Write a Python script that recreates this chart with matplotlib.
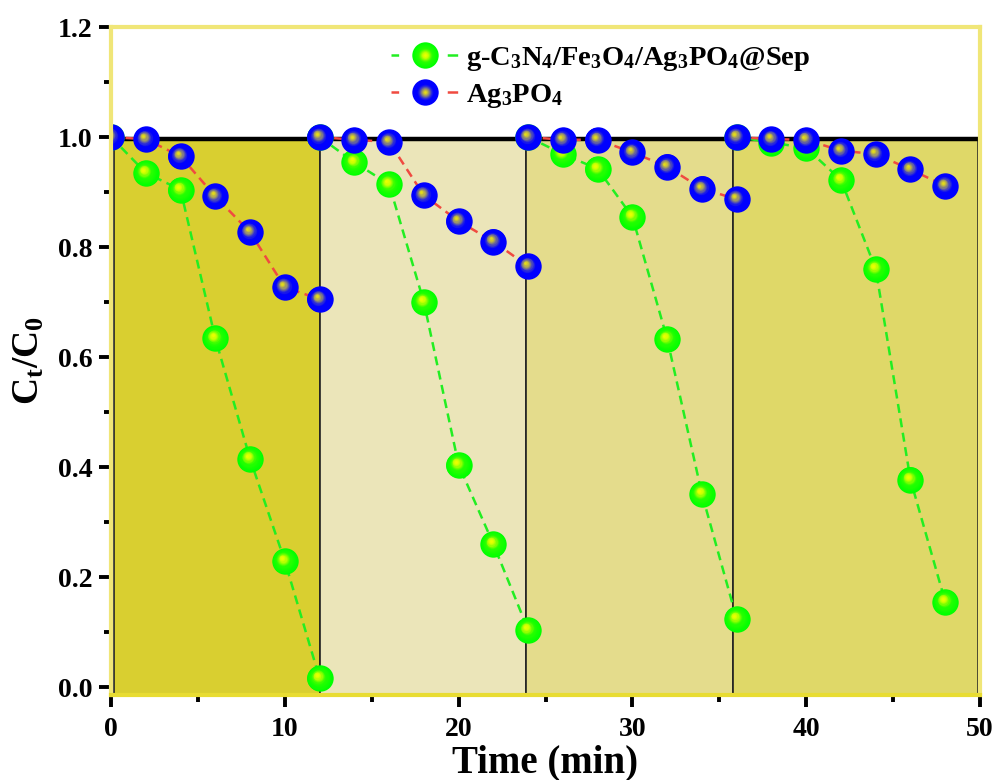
import numpy as np
import matplotlib
matplotlib.use("Agg")
import matplotlib.pyplot as plt
from matplotlib.patches import Rectangle
from matplotlib.lines import Line2D
from matplotlib.legend_handler import HandlerTuple
import matplotlib.transforms as mtransforms

plt.rcParams['font.family'] = ['Liberation Serif', 'DejaVu Serif']
plt.rcParams['font.weight'] = 'bold'
plt.rcParams['mathtext.fontset'] = 'custom'
plt.rcParams['mathtext.rm'] = 'Liberation Serif:bold'
plt.rcParams['mathtext.it'] = 'Liberation Serif:bold'
plt.rcParams['mathtext.bf'] = 'Liberation Serif:bold'
plt.rcParams['lines.scale_dashes'] = False

# ---- data (4 cycles, each starting at C/C0 = 1) ----
cycle_times = [
    [0, 2, 4, 6, 8, 10, 12],
    [12, 14, 16, 18, 20, 22, 24],
    [24, 26, 28, 30, 32, 34, 36],
    [36, 38, 40, 42, 44, 46, 48],
]
composite_vals = [
    [1.0, 0.935, 0.904, 0.634, 0.415, 0.229, 0.016],
    [1.0, 0.954, 0.914, 0.700, 0.404, 0.260, 0.104],
    [1.0, 0.969, 0.942, 0.855, 0.633, 0.351, 0.124],
    [1.0, 0.990, 0.980, 0.922, 0.760, 0.377, 0.155],
]
ag3po4_vals = [
    [1.0, 0.996, 0.965, 0.892, 0.827, 0.727, 0.705],
    [1.0, 0.995, 0.991, 0.894, 0.847, 0.810, 0.765],
    [1.0, 0.995, 0.995, 0.972, 0.946, 0.906, 0.887],
    [1.0, 0.996, 0.995, 0.975, 0.969, 0.941, 0.911],
]
cycle_bounds = [0.2, 12.0, 23.9, 35.8, 49.9]
cycle_colors = ['#d9cf30', '#ebe5b9', '#e4dc8c', '#dfd868']
label_green = r'g-C$_3$N$_4$/Fe$_3$O$_4$/Ag$_3$PO$_4$@Sep'
label_blue = r'Ag$_3$PO$_4$'

fig = plt.figure(figsize=(9.94, 7.8), dpi=100)
ax = fig.add_axes([111/994, 1-695/780, (980-111)/994, (695-27)/780])
ax.set_xlim(0, 50)
ax.set_ylim(-0.0145, 1.2)

# cycle background blocks
for i, c in enumerate(cycle_colors):
    x0, x1 = cycle_bounds[i], cycle_bounds[i+1]
    ax.add_patch(Rectangle((x0, -0.0145), x1 - x0, 0.997 + 0.0145,
                           facecolor=c, edgecolor='#222222', linewidth=1.2, zorder=0.5))
ax.axhline(0.997, color='black', lw=3.2, zorder=1)


def interp_color(stops, t):
    ts = [s[0] for s in stops]
    cols = np.array([s[1] for s in stops], dtype=float) / 255.0
    return tuple(np.interp(t, ts, cols[:, k]) for k in range(3))


green_stops = [(0.0, (255, 255, 0)), (0.25, (200, 255, 0)), (0.55, (40, 255, 0)), (1.0, (0, 255, 0))]
blue_stops = [(0.0, (255, 255, 0)), (0.14, (215, 205, 40)), (0.32, (140, 135, 120)),
              (0.52, (40, 40, 220)), (0.65, (0, 0, 255)), (1.0, (0, 0, 255))]

MS = 19


def sphere_layers(ax, xs, ys, stops, z):
    fracs = np.linspace(1.0, 0.1, 16)
    for f in fracs:
        col = interp_color(stops, f)
        tr = mtransforms.offset_copy(ax.transData, fig=fig, x=-3.0 * (1 - f),
                                     y=3.5 * (1 - f), units='dots')
        ax.plot(xs, ys, ls='none', marker='o', ms=MS * f, mfc=col, mec='none',
                transform=tr, zorder=z)


all_t = np.concatenate(cycle_times)
all_g = np.concatenate(composite_vals)
all_b = np.concatenate(ag3po4_vals)

for t, v in zip(cycle_times, composite_vals):
    ax.plot(t, v, color='#22ee22', ls=(0, (6.5, 4)), lw=1.8, zorder=2)
sphere_layers(ax, all_t, all_g, green_stops, 3)
for t, v in zip(cycle_times, ag3po4_vals):
    ax.plot(t, v, color='#f04a40', ls=(0, (6.5, 4)), lw=1.8, zorder=4)
sphere_layers(ax, all_t, all_b, blue_stops, 5)

# spines
for s in ['left', 'top', 'right']:
    ax.spines[s].set_color('#f0e678')
    ax.spines[s].set_linewidth(3)
ax.spines['bottom'].set_color('#e8dc32')
ax.spines['bottom'].set_linewidth(3)
for s in ax.spines.values():
    s.set_zorder(6)

ax.set_xticks([0, 10, 20, 30, 40, 50])
ax.set_xticks([5, 15, 25, 35, 45], minor=True)
ax.set_yticks(np.round(np.arange(0, 1.21, 0.2), 1))
ax.set_yticks(np.round(np.arange(0.1, 1.2, 0.2), 1), minor=True)
ax.set_yticklabels([f'{v:.1f}' for v in np.arange(0, 1.21, 0.2)])
ax.tick_params(axis='both', which='major', direction='out', length=8.5, width=2.8,
               color='black', labelsize=20)
ax.tick_params(axis='both', which='minor', direction='out', length=5, width=2.8, color='black')
ax.tick_params(axis='x', which='major', pad=7)
ax.tick_params(axis='y', which='major', pad=5)
for lab in ax.get_xticklabels() + ax.get_yticklabels():
    lab.set_fontweight('bold')

ax.set_xlabel('Time (min)', fontsize=28, fontweight='bold', labelpad=2)
ax.set_ylabel(r'C$_t$/C$_0$', fontsize=27, fontweight='bold', labelpad=8)


# legend handles: dashed line + layered sphere
def legend_handle(line_color, stops):
    hs = [Line2D([], [], color=line_color, ls=(0, (5.5, 35, 7.5, 100)), lw=1.8)]
    for f in np.linspace(1.0, 0.1, 12):
        hs.append(Line2D([], [], ls='none', marker='o', ms=MS * f,
                         mfc=interp_color(stops, f), mec='none'))
    return tuple(hs)


leg = ax.legend([legend_handle('#22ee22', green_stops), legend_handle('#f04a40', blue_stops)],
                [label_green, label_blue],
                handler_map={tuple: HandlerTuple(ndivide=1)},
                loc='upper left', bbox_to_anchor=(391/994, 1-45/780),
                bbox_transform=fig.transFigure, frameon=False,
                prop={'family': 'Liberation Serif', 'weight': 'bold', 'size': 20.5},
                handlelength=2.36, handletextpad=0.28, labelspacing=0.3,
                borderpad=0, borderaxespad=0, numpoints=1)
leg.set_zorder(7)

fig.savefig('out.png', dpi=100)
